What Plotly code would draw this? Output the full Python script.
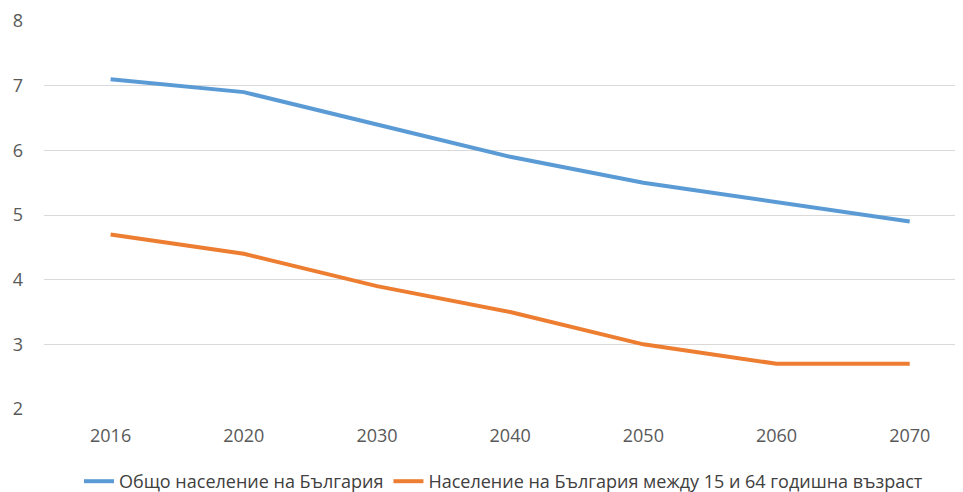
import plotly.graph_objects as go

years = ["2016", "2020", "2030", "2040", "2050", "2060", "2070"]
total_pop = [7.1, 6.9, 6.4, 5.9, 5.5, 5.2, 4.9]
working_age_pop = [4.7, 4.4, 3.9, 3.5, 3.0, 2.7, 2.7]
series_names = ["Общо население на България",
                "Население на България между 15 и 64 годишна възраст"]
y_ticks = [2, 3, 4, 5, 6, 7, 8]

fig = go.Figure()
fig.add_trace(go.Scatter(x=years, y=total_pop, mode="lines", name=series_names[0],
                         line=dict(color="#5B9BD5", width=4)))
fig.add_trace(go.Scatter(x=years, y=working_age_pop, mode="lines", name=series_names[1],
                         line=dict(color="#ED7D31", width=4)))

font_family = "Open Sans"
fig.update_layout(
    width=955, height=492,
    margin=dict(l=36, r=0, t=13, b=90, pad=0),
    paper_bgcolor="white", plot_bgcolor="white",
    font=dict(family=font_family, size=18, color="#595959"),
    showlegend=True,
    legend=dict(orientation="h", x=0.5, xanchor="center", y=-0.1877, yanchor="middle",
                font=dict(size=18, color="#404040"), itemwidth=30,
                tracegroupgap=0, borderwidth=0),
    xaxis=dict(type="category", range=[-0.5, 6.4], showgrid=False, zeroline=False,
               showline=False, ticks="", tickfont=dict(size=18, color="#595959"),
               ticklabelstandoff=14, automargin=False),
    yaxis=dict(range=[2, 8], tickvals=y_ticks, showgrid=True, gridcolor="#D9D9D9",
               gridwidth=1, zeroline=False, showline=False, ticks="",
               tickfont=dict(size=18, color="#595959"), ticklabelstandoff=20,
               automargin=False),
)
fig.write_html("out.html")
